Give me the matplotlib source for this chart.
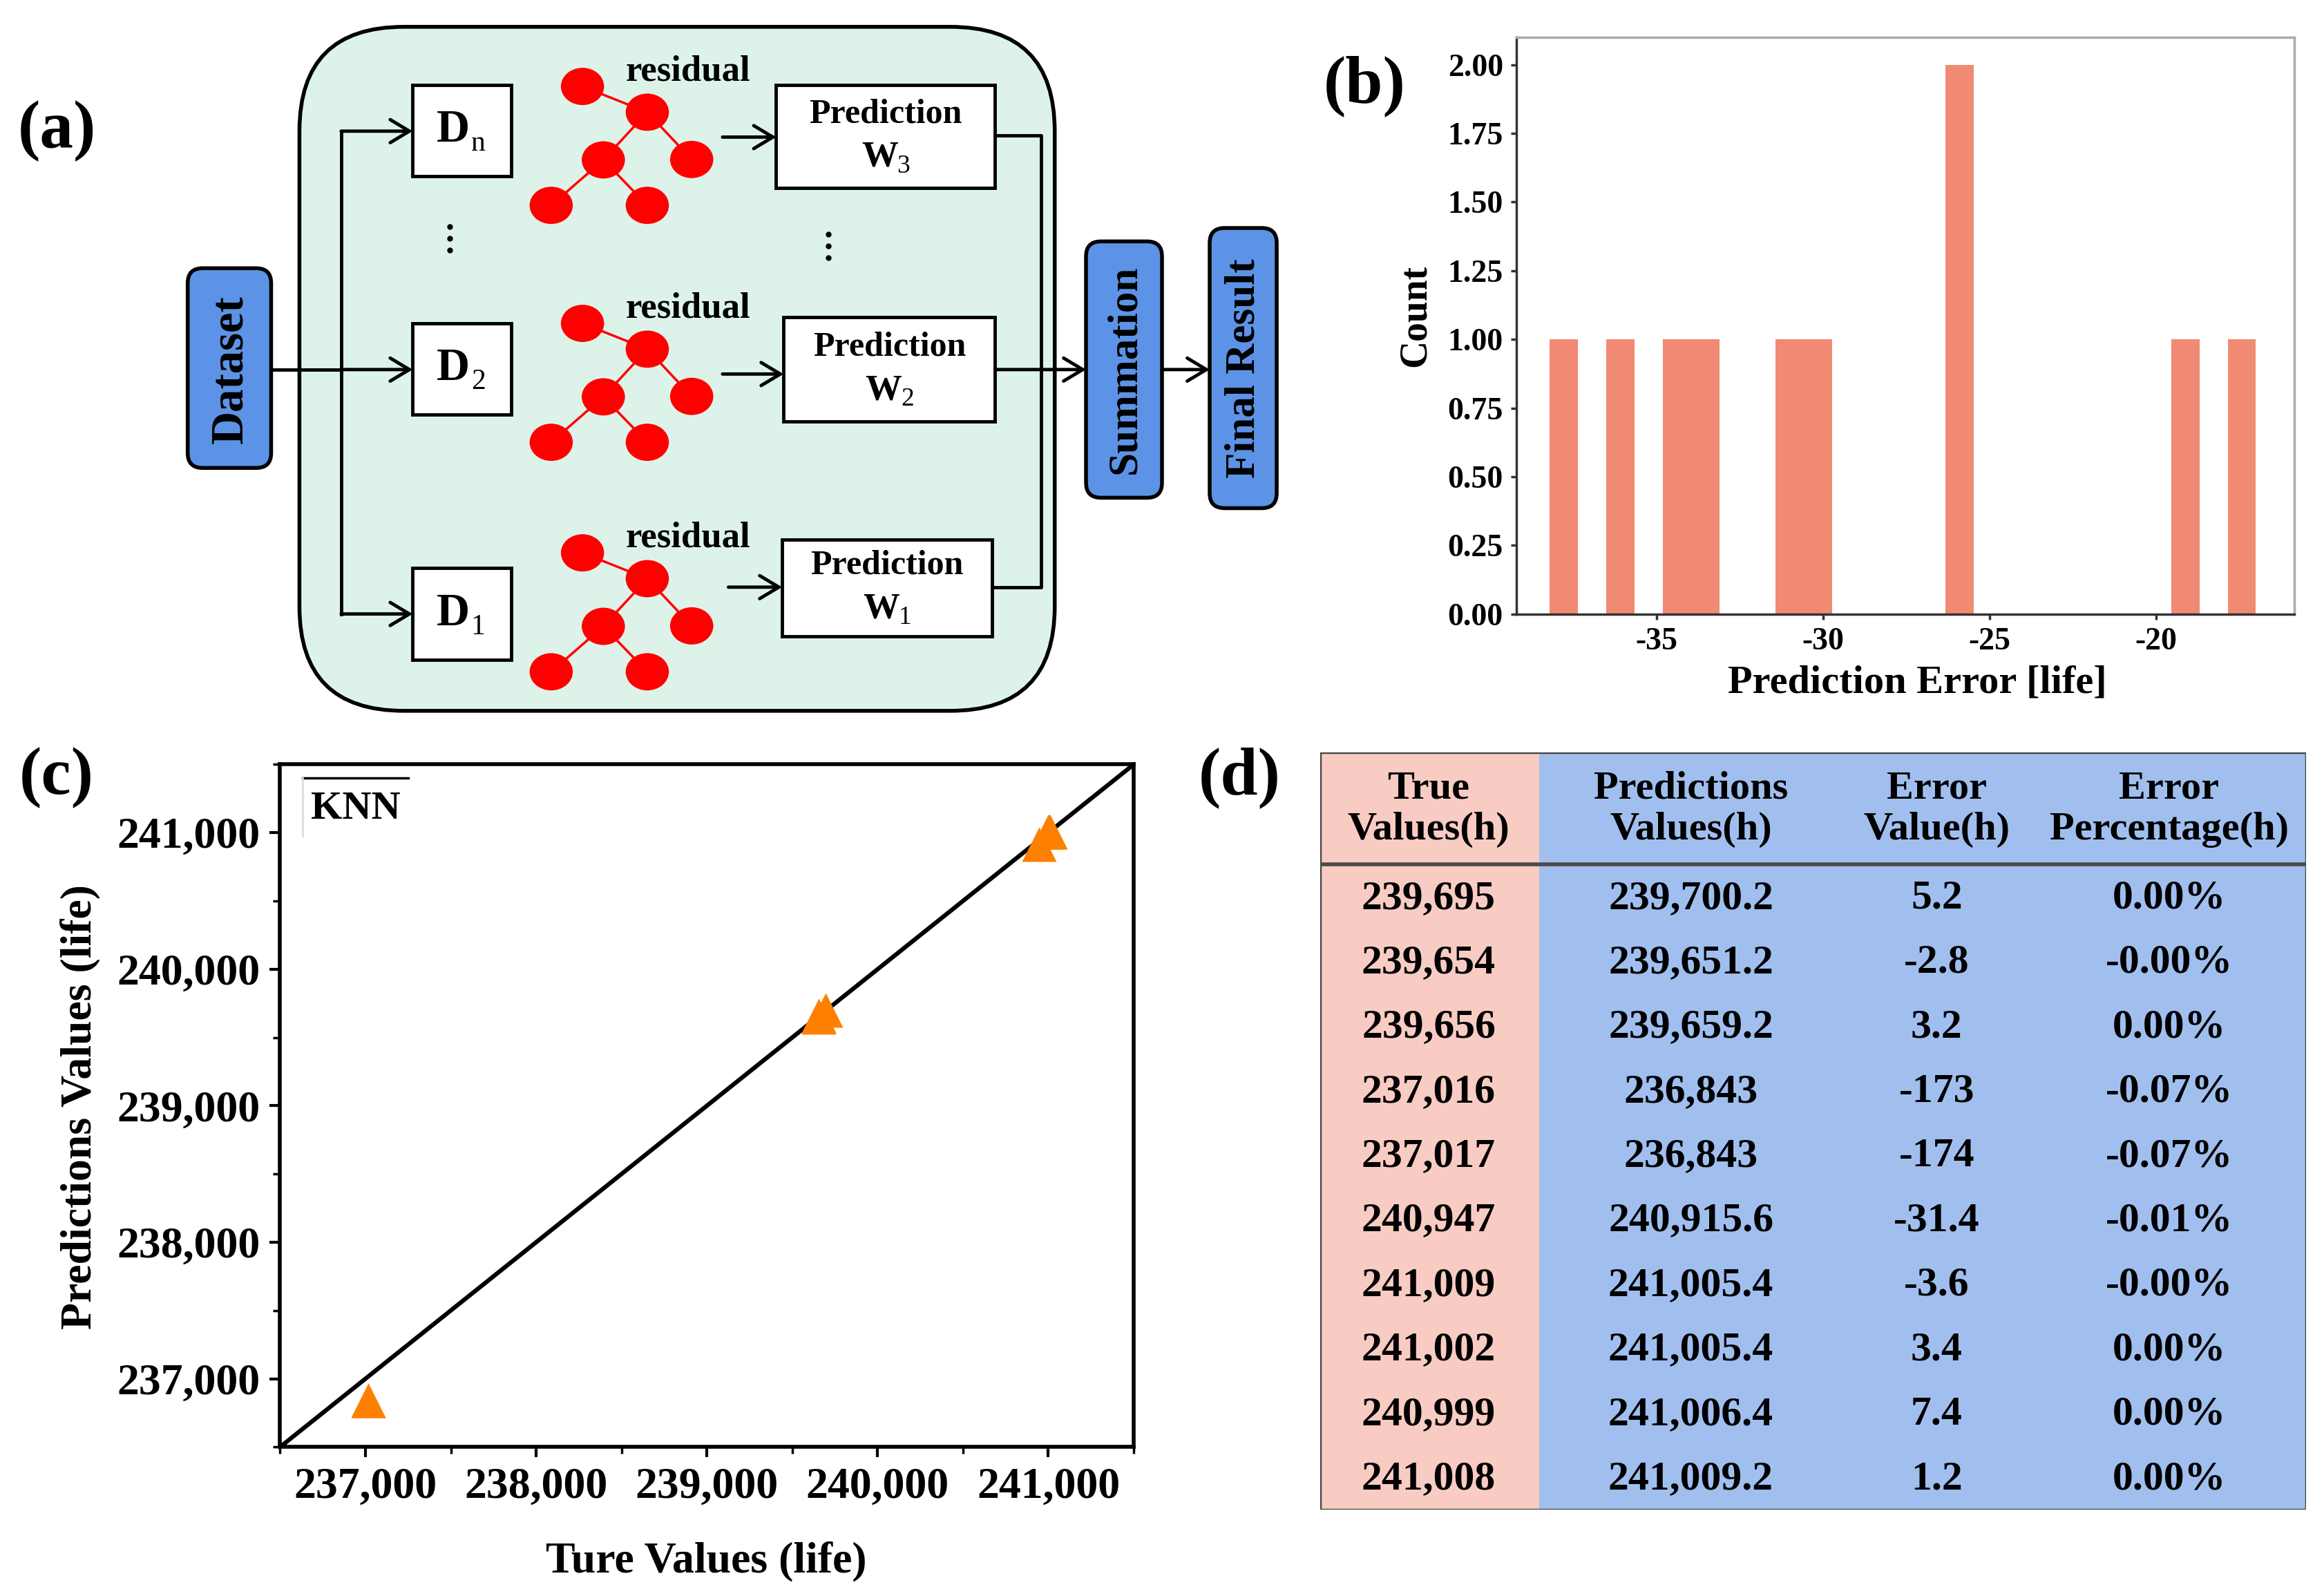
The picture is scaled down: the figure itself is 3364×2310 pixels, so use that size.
import matplotlib.pyplot as plt
import matplotlib.ticker as mticker
from matplotlib.patches import FancyBboxPatch, Rectangle, Ellipse

plt.rcParams['font.family'] = ['Liberation Serif', 'DejaVu Serif']
plt.rcParams['font.weight'] = 'bold'
plt.rcParams['axes.labelweight'] = 'bold'
plt.rcParams['axes.unicode_minus'] = False

# ---- data ----
true_vals = [239695, 239654, 239656, 237016, 237017, 240947, 241009, 241002, 240999, 241008]
pred_vals = [239700.2, 239651.2, 239659.2, 236843, 236843, 240915.6, 241005.4, 241005.4, 241006.4, 241009.2]
err_vals = [5.2, -2.8, 3.2, -173, -174, -31.4, -3.6, 3.4, 7.4, 1.2]
err_pct = ["0.00%", "-0.00%", "0.00%", "-0.07%", "-0.07%", "-0.01%", "-0.00%", "0.00%", "0.00%", "0.00%"]
table_header = ["True\nValues(h)", "Predictions\nValues(h)", "Error\nValue(h)", "Error\nPercentage(h)"]

# prediction errors shown in the histogram (b)
hist_errors = [-38.2, -36.5, -34.5, -33.6, -31.2, -30.3, -26.1, -25.9, -19.2, -17.0]
hist_bins = 25
hist_yticks = [0, 0.25, 0.5, 0.75, 1.0, 1.25, 1.5, 1.75, 2.0]
hist_xticks = [-35, -30, -25, -20]

scatter_ticks = [237000, 238000, 239000, 240000, 241000]
scatter_lims = [236500, 241500]

# reference layout grid (pixels of a 1560 x 1071 view)
W, H = 1560, 1071


def fx(x):
    return x / W


def fy(y):
    return 1 - y / H


def rect_axes(fig, x0, y0, x1, y1):
    return fig.add_axes([fx(x0), fy(y1), fx(x1) - fx(x0), fy(y0) - fy(y1)])


def fmt_num(v):
    return f"{v:,.0f}" if float(v).is_integer() else f"{v:,.1f}"


fig = plt.figure(figsize=(33.64, 23.10), dpi=100)

# ---- overlay axes for the diagram (a) and panel letters ----
ax0 = fig.add_axes([0, 0, 1, 1])
ax0.set_xlim(0, W)
ax0.set_ylim(H, 0)
ax0.axis('off')

mint = '#DDF3E9'
blue_box = '#5D93E6'


def box(ax, x0, y0, x1, y1, fc, r=0, lw=4, z=2):
    if r:
        p = FancyBboxPatch((x0, y0), x1 - x0, y1 - y0, boxstyle=f"round,pad=0,rounding_size={r}",
                           fc=fc, ec='black', lw=lw, zorder=z)
    else:
        p = Rectangle((x0, y0), x1 - x0, y1 - y0, fc=fc, ec='black', lw=lw, zorder=z)
    ax.add_patch(p)


def arrow(ax, x0, x1, y):
    ax.annotate('', xy=(x1, y), xytext=(x0, y),
                arrowprops=dict(arrowstyle='->,head_length=0.5,head_width=0.3', lw=3.5,
                                color='black', shrinkA=0, shrinkB=0, mutation_scale=40), zorder=4)


box(ax0, 201, 18, 708, 477, mint, r=70, lw=4, z=1)
box(ax0, 126, 180, 182, 314, blue_box, r=10)
box(ax0, 729, 162, 780, 334, blue_box, r=10)
box(ax0, 812, 153, 857, 341, blue_box, r=10)
ax0.text(155, 248, 'Dataset', rotation=90, ha='center', va='center', fontsize=48, zorder=5)
ax0.text(755, 248, 'Summation', rotation=90, ha='center', va='center', fontsize=44, zorder=5)
ax0.text(835, 247, 'Final Result', rotation=90, ha='center', va='center', fontsize=44, zorder=5)

# data subset boxes
for (y0, y1, sub) in [(57, 118, 'n'), (217, 278, '2'), (381, 443, '1')]:
    box(ax0, 277, y0, 343, y1, 'white', lw=3.5)
    yc = (y0 + y1) / 2
    ax0.text(304, yc, 'D', ha='center', va='center', fontsize=48, zorder=5)
    ax0.text(321, yc + 9, sub, ha='center', va='center', fontsize=30, fontweight='normal', zorder=5)

# prediction boxes
for (x0, y0, x1, y1, sub) in [(521, 57, 668, 126, '3'), (526, 213, 668, 283, '2'), (525, 362, 666, 427, '1')]:
    box(ax0, x0, y0, x1, y1, 'white', lw=3.5)
    xc = (x0 + x1) / 2
    yc = (y0 + y1) / 2
    ax0.text(xc, yc - 15, 'Prediction', ha='center', va='center', fontsize=36, zorder=5)
    ax0.text(xc - 4, yc + 14, 'W', ha='center', va='center', fontsize=38, zorder=5)
    ax0.text(xc + 12, yc + 20, sub, ha='center', va='center', fontsize=27, fontweight='normal', zorder=5)

# trees of residual learners
tree_nodes = [(391, 58), (434.5, 75.3), (405, 107.3), (464.3, 107), (370, 137.8), (434.5, 137.8)]
tree_edges = [(0, 1), (1, 2), (1, 3), (2, 4), (2, 5)]
for dy in [0, 159, 313]:
    for a, b in tree_edges:
        ax0.plot([tree_nodes[a][0], tree_nodes[b][0]], [tree_nodes[a][1] + dy, tree_nodes[b][1] + dy],
                 color='red', lw=2.5, zorder=3)
    for (x, y) in tree_nodes:
        ax0.add_patch(Ellipse((x, y + dy), 29, 25, fc='red', ec='none', zorder=3))
    ax0.text(462, 48 + dy, 'residual', ha='center', va='center', fontsize=38, zorder=5)

# vertical ellipsis marks
for x, y in [(302, 160), (556, 165)]:
    ax0.plot([x, x, x], [y - 8, y, y + 8], 'o', color='black', ms=5, zorder=5)

# connectors
ax0.plot([182, 229], [248, 248], color='black', lw=3.5, zorder=4)
ax0.plot([229, 229], [88, 412], color='black', lw=3.5, zorder=4)
arrow(ax0, 229, 277, 88)
arrow(ax0, 229, 277, 248)
arrow(ax0, 229, 277, 412)
arrow(ax0, 485, 521, 92)
arrow(ax0, 485, 526, 251)
arrow(ax0, 489, 525, 394)
ax0.plot([668, 699, 699, 666], [91, 91, 394, 394], color='black', lw=3.5, zorder=4)
arrow(ax0, 668, 729, 248)
arrow(ax0, 780, 812, 248)

for lab, x, y in [('(a)', 38, 88), ('(b)', 916, 58), ('(c)', 38, 522), ('(d)', 832, 522)]:
    ax0.text(x, y, lab, ha='center', va='center', fontsize=70)

# ---- (b) histogram ----
axb = rect_axes(fig, 1018, 25, 1540, 412)
axb.hist(hist_errors, bins=hist_bins, color='#F08A73')
axb.set_xlim(-39.2, -15.85)
axb.set_ylim(0, 2.1)
axb.set_yticks(hist_yticks)
axb.set_xticks(hist_xticks)
axb.yaxis.set_major_formatter(mticker.FormatStrFormatter('%.2f'))
axb.tick_params(labelsize=33, length=6, width=2.5, pad=8, color='#333333')
for s in ['top', 'right']:
    axb.spines[s].set_color('#AAAAAA')
    axb.spines[s].set_linewidth(2.5)
for s in ['left', 'bottom']:
    axb.spines[s].set_color('#333333')
    axb.spines[s].set_linewidth(2.5)
axb.set_xlabel('Prediction Error [life]', fontsize=42)
axb.set_ylabel('Count', fontsize=40)
axb.xaxis.set_label_coords(0.515, -0.088)
axb.yaxis.set_label_coords(-0.107, 0.517)

# ---- (c) true vs predicted ----
axc = rect_axes(fig, 188, 513, 761, 971)
axc.plot(scatter_lims, scatter_lims, color='black', lw=4.5, zorder=2)
axc.plot(true_vals, pred_vals, '^', color='#FF8000', ms=36, mec='none', zorder=3)
axc.set_xlim(scatter_lims)
axc.set_ylim(scatter_lims)
axc.set_xticks(scatter_ticks)
axc.set_yticks(scatter_ticks)
axc.xaxis.set_minor_locator(mticker.MultipleLocator(500))
axc.yaxis.set_minor_locator(mticker.MultipleLocator(500))
comma = mticker.FuncFormatter(lambda v, p: f"{v:,.0f}")
axc.xaxis.set_major_formatter(comma)
axc.yaxis.set_major_formatter(comma)
axc.tick_params(which='major', direction='out', labelsize=46, length=11, width=3, pad=10)
axc.tick_params(which='minor', direction='out', length=7, width=2.5)
for s in axc.spines.values():
    s.set_linewidth(4)
axc.set_xlabel('Ture Values (life)', fontsize=46)
axc.set_ylabel('Predictions Values (life)', fontsize=46)
axc.xaxis.set_label_coords(0.499, -0.138)
axc.yaxis.set_label_coords(-0.21, 0.498)
axc.plot([0.026, 0.150], [0.980, 0.980], transform=axc.transAxes, color='black', lw=2.5)
axc.plot([0.026, 0.026], [0.980, 0.895], transform=axc.transAxes, color='#DDDDDD', lw=2)
axc.text(0.0885, 0.935, 'KNN', transform=axc.transAxes, ha='center', va='center', fontsize=42)

# ---- (d) table ----
axt = rect_axes(fig, 886, 505, 1548, 1013)
axt.set_xlim(886, 1548)
axt.set_ylim(1013, 505)
axt.axis('off')
axt.add_patch(Rectangle((886, 505), 147, 508, fc='#F8CCC3', ec='none'))
axt.add_patch(Rectangle((1033, 505), 515, 508, fc='#A1BFEE', ec='none'))
axt.add_patch(Rectangle((886, 505), 662, 508, fc='none', ec='#444444', lw=2.5))
axt.plot([886, 1548], [580, 580], color='#4A4A4A', lw=4)
col_x = [959, 1135, 1300, 1456]
for x, h in zip(col_x, table_header):
    axt.text(x, 543, h, ha='center', va='center', fontsize=42, linespacing=1.2)
rows = zip(true_vals, pred_vals, err_vals, err_pct)
for i, (t, p, e, pc) in enumerate(rows):
    y = 603 + i * 43.3
    for x, s in zip(col_x, [fmt_num(t), fmt_num(p), fmt_num(e), pc]):
        axt.text(x, y, s, ha='center', va='center', fontsize=43)

fig.savefig('out.png', dpi=100)
